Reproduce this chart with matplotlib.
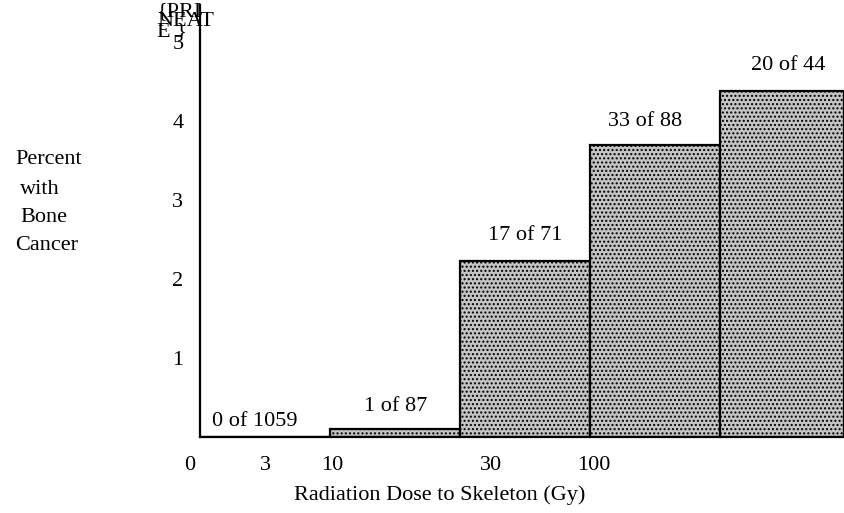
import matplotlib
matplotlib.use("Agg")
import matplotlib.pyplot as plt

# dose bins drawn as equal-width steps (bin index units)
bin_left = [0, 1, 2, 3, 4]
bin_width = [1.0, 1.0, 1.0, 1.0, 0.95]
percent = [0.0, 0.1, 2.23, 3.7, 4.38]
counts = ["0 of 1059", "1 of 87", "17 of 71", "33 of 88", "20 of 44"]
# label positions (bin units) and vertical offsets
count_x = [0.42, 1.5, 2.5, 3.42, 4.52]
count_y = [0.19, 0.38, 2.55, 4.0, 4.7]

dose_labels = ["0", "3", "10", "30", "100"]
dose_pos = [-0.08, 0.5, 1.02, 2.24, 3.03]
y_ticks = [1, 2, 3, 4, 5]

plt.rcParams["font.family"] = ["Liberation Serif", "DejaVu Serif"]
plt.rcParams["hatch.color"] = "#333333"
plt.rcParams["hatch.linewidth"] = 1.0

FS = 16

fig = plt.figure(figsize=(8.44, 5.13), dpi=100)
ax = fig.add_axes([200 / 844, 76 / 513, 644 / 844, 432 / 513])

ax.bar(bin_left, percent, width=bin_width, align="edge",
       facecolor="#c4c4c4", edgecolor="black", linewidth=1.6, hatch="....")

for x, y, s in zip(count_x, count_y, counts):
    ax.text(x, y, s, ha="center", va="center", fontsize=FS)

ax.set_xlim(0, 4.95)
ax.set_ylim(0, 5.47)
for side in ["top", "right"]:
    ax.spines[side].set_visible(False)
ax.spines["left"].set_linewidth(1.6)
ax.spines["bottom"].set_linewidth(1.6)

ax.set_xticks([])
ax.set_yticks(y_ticks)
ax.set_yticklabels([str(t) for t in y_ticks], fontsize=FS)
ax.tick_params(axis="y", length=0, pad=12)

for p, s in zip(dose_pos, dose_labels):
    ax.text(p, -0.36, s, ha="center", va="center", fontsize=FS)
ax.text(1.84, -0.74, "Radiation Dose to Skeleton (Gy)", ha="center",
        va="center", fontsize=FS)

# y axis title, stacked words
fig.text(15 / 844, 1 - 160 / 513, "Percent", ha="left", va="center", fontsize=FS)
fig.text(20 / 844, 1 - 189 / 513, "with", ha="left", va="center", fontsize=FS)
fig.text(20 / 844, 1 - 218 / 513, "Bone", ha="left", va="center", fontsize=FS)
fig.text(15 / 844, 1 - 246 / 513, "Cancer", ha="left", va="center", fontsize=FS)

# overprinted scan artefact at the top of the axis
fig.text(157 / 844, 1 - 12 / 513, "{PRI", ha="left", va="center", fontsize=FS)
fig.text(157 / 844, 1 - 21 / 513, "NEAT", ha="left", va="center", fontsize=FS)
fig.text(157 / 844, 1 - 32 / 513, "E }", ha="left", va="center", fontsize=FS)

fig.savefig("out.png", dpi=100)
